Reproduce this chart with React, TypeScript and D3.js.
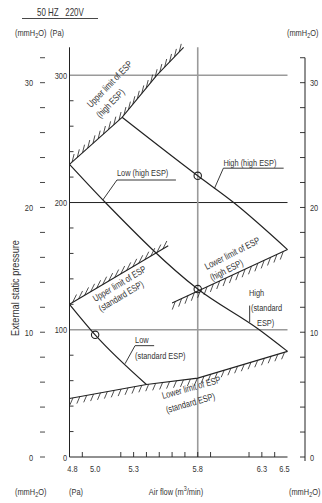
import React from 'react';
import * as d3 from 'd3';

type Pt = [number, number];

// axis ticks and labels
const FLOW_TICKS = [4.9, 5.2, 5.3, 5.4, 5.5, 5.6, 5.7, 5.8, 5.9, 6.2, 6.3, 6.4];
const FLOW_LABELS = [4.8, 5.0, 5.3, 5.8, 6.3, 6.5];
const PA_LABELS = [0, 100, 200, 300];
const PA_MINOR = [20, 40, 60, 80, 120, 140, 160, 180, 220, 240, 260, 280];
const MM_TICKS = [0, 2, 4, 6, 8, 10, 12, 14, 16, 18, 20, 22, 24, 26, 28, 30, 32];
const MM_LABELS = [0, 10, 20, 30];
const PA_GRID = [100, 200, 300];
const FLOW_GRID = [5.8];

// fan curves: [air flow m3/min, external static pressure Pa]
const HIGH_HIGH_ESP: Pt[] = [[5.21, 267], [5.8, 221], [6.08, 200], [6.5, 163]];
const LOW_HIGH_ESP: Pt[] = [[4.8, 230], [5.08, 200], [5.8, 132], [6.28, 100], [6.5, 83]];
const LOW_STD_ESP: Pt[] = [[4.8, 120], [5.0, 96], [5.4, 57]];

// ESP limits (hatched)
const UPPER_HIGH_ESP: Pt[] = [[4.8, 230], [5.21, 267], [5.48, 300], [5.69, 322]];
const UPPER_STD_ESP: Pt[] = [[4.8, 120], [5.57, 166]];
const LOWER_HIGH_ESP: Pt[] = [[5.6, 121], [6.5, 163]];
const LOWER_STD_ESP: Pt[] = [[4.8, 46], [5.4, 57], [5.8, 62], [6.5, 83]];

const RATED_POINTS: Pt[] = [[5.8, 221], [5.8, 132], [5.0, 96]];

const PA_PER_MM = 9.80665;
const FONT = '"Liberation Sans", Arial, sans-serif';
const FS = 9.5;
const SX = 0.78; // squeeze glyphs to look like the narrow face in the scan
const INK = '#222';
const TXT = '#333';
const GREY = '#9a9a9a';

const x = d3.scaleLinear().domain([4.8, 6.5]).range([69.5, 287.5]);
const y = d3.scaleLinear().domain([0, 300]).range([457, 75.3]);
const ym = (mm: number) => y(mm * PA_PER_MM);

const line = d3.line<Pt>().x(d => x(d[0])).y(d => y(d[1]));
const curve = d3.line<Pt>().x(d => x(d[0])).y(d => y(d[1])).curve(d3.curveMonotoneX);

// short strokes along a polyline (pixel space), every `step` px
function hatches(data: Pt[], dx: number, dy: number, step = 7) {
  const pts = data.map(d => [x(d[0]), y(d[1])]);
  const out: string[] = [];
  let t = step / 2;
  for (let i = 0; i < pts.length - 1; i++) {
    const [x0, y0] = pts[i];
    const [x1, y1] = pts[i + 1];
    const len = Math.hypot(x1 - x0, y1 - y0);
    while (t <= len) {
      const f = t / len;
      out.push(`M${x0 + (x1 - x0) * f},${y0 + (y1 - y0) * f}l${dx},${dy}`);
      t += step;
    }
    t -= len;
  }
  return out.join('');
}

function Limit({ data, dx, dy }: { data: Pt[]; dx: number; dy: number }) {
  return (
    <g>
      <path d={line(data) || ''} fill="none" stroke={INK} strokeWidth={1.1} />
      <path d={hatches(data, dx, dy)} fill="none" stroke={INK} strokeWidth={0.8} />
    </g>
  );
}

// text with narrow glyphs
function T({ tx, ty, a = 0, anchor = 'start', sx = SX, fs, children }:
  { tx: number; ty: number; a?: number; anchor?: string; sx?: number; fs?: number; children: React.ReactNode }) {
  return (
    <text transform={`translate(${tx},${ty}) rotate(${a}) scale(${sx},1)`} textAnchor={anchor} fontSize={fs}>
      {children}
    </text>
  );
}

function MmH2O({ tx, ty }: { tx: number; ty: number }) {
  return (
    <T tx={tx} ty={ty}>
      (mmH<tspan dy={2} fontSize={7}>2</tspan><tspan dy={-2}>O)</tspan>
    </T>
  );
}

function Rotated({ at, angle, lines }: { at: Pt[]; angle: number; lines: string[] }) {
  return (
    <g>
      {lines.map((t, i) => (
        <T key={i} tx={x(at[i][0])} ty={y(at[i][1])} a={angle}>{t}</T>
      ))}
    </g>
  );
}

export default function App() {
  const yTop = y(322);
  return (
    <svg width={322} height={503} style={{ position: 'absolute', left: 0, top: 0, background: '#fff' }}
      fontFamily={FONT} fontSize={FS} fill={TXT}>
      {/* header */}
      <T tx={37} ty={16} fs={10.2}>50 HZ{'\u00a0\u00a0\u00a0'}220V</T>
      <line x1={22} x2={98} y1={18.5} y2={18.5} stroke={TXT} strokeWidth={0.9} />
      <MmH2O tx={15} ty={36} />
      <T tx={50} ty={36}>(Pa)</T>
      <MmH2O tx={287} ty={36} />

      {/* grid */}
      {PA_GRID.map(v => (
        <line key={v} x1={x(4.8)} x2={x(6.5)} y1={y(v)} y2={y(v)}
          stroke={v === 200 ? INK : GREY} strokeWidth={v === 200 ? 1 : 1.6} />
      ))}
      {FLOW_GRID.map(v => (
        <line key={v} x1={x(v)} x2={x(v)} y1={yTop} y2={y(0)} stroke={GREY} strokeWidth={1.6} />
      ))}

      {/* left Pa axis */}
      <line x1={x(4.8)} x2={x(4.8)} y1={yTop} y2={y(0)} stroke={INK} strokeWidth={1} />
      {PA_MINOR.map(v => (
        <line key={v} x1={x(4.8)} x2={x(4.8) + 4} y1={y(v)} y2={y(v)} stroke={INK} strokeWidth={0.9} />
      ))}
      {PA_LABELS.map(v => (
        <T key={v} tx={67} ty={y(v) + 3.5} anchor="end">{v}</T>
      ))}

      {/* left mmH2O scale */}
      {MM_TICKS.map(v => (
        <line key={v} x1={40} x2={45} y1={ym(v)} y2={ym(v)} stroke={TXT} strokeWidth={0.9} />
      ))}
      {MM_LABELS.map(v => (
        <T key={v} tx={33} ty={ym(v) + 3.5} anchor="end">{v}</T>
      ))}
      <T tx={18.5} ty={288} a={-90} anchor="middle" fs={10.2} sx={0.9}>External static pressure</T>

      {/* right mmH2O axis */}
      <line x1={305} x2={305} y1={ym(32)} y2={y(0) + 4} stroke={INK} strokeWidth={1} />
      {MM_TICKS.map(v => (
        <line key={v} x1={300} x2={305} y1={ym(v)} y2={ym(v)} stroke={INK} strokeWidth={0.9} />
      ))}
      {MM_LABELS.map(v => (
        <T key={v} tx={310} ty={ym(v) + 3.5}>{v}</T>
      ))}

      {/* bottom axis */}
      <line x1={x(4.8)} x2={x(6.5)} y1={y(0)} y2={y(0)} stroke={INK} strokeWidth={1} />
      {FLOW_TICKS.map(v => (
        <line key={v} x1={x(v)} x2={x(v)} y1={y(0)} y2={y(0) - 5} stroke={INK} strokeWidth={0.9} />
      ))}
      {FLOW_LABELS.map((v, i) => (
        <T key={v} tx={x(v) + (i === 0 ? 3 : i === FLOW_LABELS.length - 1 ? -3 : 0)} ty={472}
          anchor="middle">{v.toFixed(1)}</T>
      ))}
      <MmH2O tx={15} ty={495} />
      <T tx={69} ty={495}>(Pa)</T>
      <T tx={176} ty={495} anchor="middle">
        Air flow (m<tspan dy={-4} fontSize={7}>3</tspan><tspan dy={4}>/min)</tspan>
      </T>
      <MmH2O tx={289} ty={495} />

      {/* ESP limits */}
      <Limit data={UPPER_HIGH_ESP} dx={2} dy={-8} />
      <Limit data={UPPER_STD_ESP} dx={4} dy={-8} />
      <Limit data={LOWER_HIGH_ESP} dx={-3} dy={8} />
      <Limit data={LOWER_STD_ESP} dx={-3} dy={7} />

      {/* fan curves */}
      {[HIGH_HIGH_ESP, LOW_HIGH_ESP, LOW_STD_ESP].map((d, i) => (
        <path key={i} d={curve(d) || ''} fill="none" stroke={INK} strokeWidth={1.2} />
      ))}
      {RATED_POINTS.map((d, i) => (
        <circle key={i} cx={x(d[0])} cy={y(d[1])} r={3.7} fill="none" stroke={INK} strokeWidth={1.1} />
      ))}

      {/* curve labels */}
      <path d={line([[5.06, 202], [5.17, 217.7], [5.63, 217.7]]) || ''} fill="none" stroke={INK} strokeWidth={0.9} />
      <T tx={x(5.17)} ty={y(220.5)}>Low (high ESP)</T>

      <path d={line([[5.93, 211], [6.0, 227], [6.47, 227]]) || ''} fill="none" stroke={INK} strokeWidth={0.9} />
      <T tx={x(6.0)} ty={y(229)}>High (high ESP)</T>

      <path d={line([[5.233, 73.3], [5.311, 87.5], [5.46, 87.5]]) || ''} fill="none" stroke={INK} strokeWidth={0.9} />
      <T tx={x(5.311)} ty={y(89.6)}>Low</T>
      <T tx={x(5.311)} ty={y(77)}>(standard ESP)</T>

      <path d={line([[6.205, 106], [6.205, 119]]) || ''} fill="none" stroke={INK} strokeWidth={0.9} />
      <T tx={x(6.2)} ty={y(126.5)}>High</T>
      <T tx={x(6.215)} ty={y(114.8)}>(standard</T>
      <T tx={x(6.262)} ty={y(103)}>ESP)</T>

      <Rotated at={[[4.968, 274.3], [5.04, 266]]} angle={-46} lines={['Upper limit of ESP', '(high ESP)']} />
      <Rotated at={[[5.0, 121.8], [5.046, 114]]} angle={-31} lines={['Upper limit of ESP', '(standard ESP)']} />
      <Rotated at={[[5.87, 147], [5.911, 138.3]]} angle={-27} lines={['Lower limit of ESP', '(high ESP)']} />
      <Rotated at={[[5.53, 45.5], [5.56, 34.5]]} angle={-16} lines={['Lower limit of ESP', '(standard ESP)']} />
    </svg>
  );
}
